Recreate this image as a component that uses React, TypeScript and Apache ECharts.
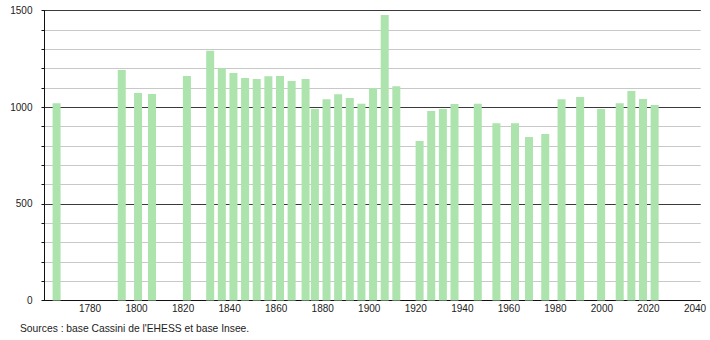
import React, { useEffect, useRef } from "react";
import * as echarts from "echarts";

const years = [1765, 1793, 1800, 1806, 1821, 1831, 1836, 1841, 1846, 1851, 1856, 1861, 1866, 1872, 1876, 1881, 1886, 1891, 1896, 1901, 1906, 1911, 1921, 1926, 1931, 1936, 1946, 1954, 1962, 1968, 1975, 1982, 1990, 1999, 2007, 2012, 2017, 2022];
const population = [1020, 1192, 1073, 1068, 1161, 1292, 1201, 1177, 1151, 1146, 1160, 1161, 1135, 1146, 991, 1041, 1067, 1048, 1018, 1099, 1477, 1108, 825, 980, 991, 1017, 1018, 917, 917, 846, 861, 1041, 1053, 991, 1020, 1084, 1042, 1011];
const xTickLabels = [1780, 1800, 1820, 1840, 1860, 1880, 1900, 1920, 1940, 1960, 1980, 2000, 2020, 2040];
const yMajorLabels = [0, 500, 1000, 1500];
const sourceText = "Sources : base Cassini de l'EHESS et base Insee.";

const FONT = "'Liberation Sans', Arial, Helvetica, sans-serif";

export default function App() {
  const ref = useRef<HTMLDivElement>(null);
  useEffect(() => {
    if (!ref.current) return;
    const chart = echarts.init(ref.current, null, { renderer: "svg" });
    chart.setOption({
      animation: false,
      backgroundColor: "#ffffff",
      grid: { left: 44.5, right: 9.3, top: 10.5, bottom: 39.5, containLabel: false, outerBoundsMode: "none" },
      xAxis: {
        type: "value",
        min: 1759.8,
        max: 2041.8,
        axisLine: { show: true, lineStyle: { color: "#111", width: 1 } },
        axisTick: { show: false },
        splitLine: { show: false },
        axisLabel: {
          customValues: xTickLabels,
          fontFamily: FONT,
          fontSize: 10,
          color: "#222",
          margin: 3,
          padding: [0, 3, 0, 0],
          formatter: (v: number) => String(v),
        },
      },
      yAxis: [
        {
          type: "value",
          min: 0,
          max: 1500,
          interval: 100,
          axisLine: { show: true, lineStyle: { color: "#111", width: 1 } },
          axisTick: { show: true, length: 3, lineStyle: { color: "#111" } },
          splitLine: { show: true, lineStyle: { color: "#c8c8c8", width: 1 } },
          axisLabel: {
            fontFamily: FONT,
            fontSize: 10,
            color: "#222",
            margin: 12,
            formatter: (v: number) => (yMajorLabels.indexOf(v) >= 0 ? String(v) : ""),
          },
        },
        {
          type: "value",
          min: 0,
          max: 1500,
          interval: 500,
          position: "left",
          axisLine: { show: false },
          axisTick: { show: false },
          axisLabel: { show: false },
          splitLine: { show: true, lineStyle: { color: "#3a3a3a", width: 1 } },
        },
      ],
      series: [
        {
          type: "bar",
          yAxisIndex: 0,
          barWidth: 8,
          itemStyle: { color: "#ade3ad" },
          data: years.map((y, i) => [y, population[i]]),
        },
      ],
      graphic: [
        {
          type: "text",
          left: 20,
          top: 323,
          style: { text: sourceText, font: `10.3px ${FONT}`, fill: "#222" },
        },
      ],
    });
    return () => chart.dispose();
  }, []);
  return <div ref={ref} style={{ position: "absolute", left: 0, top: 0, width: 710, height: 340 }} />;
}
